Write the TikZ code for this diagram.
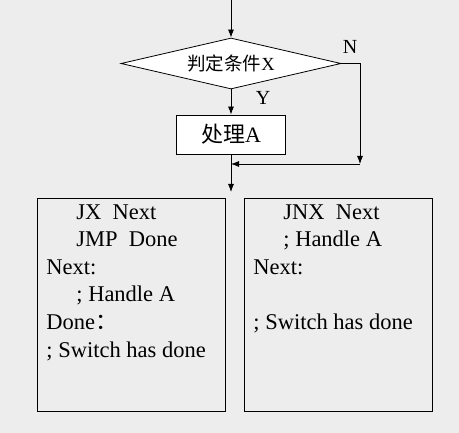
\documentclass[tikz,border=0pt]{standalone}
\usepackage{fontspec}
\setmainfont{Liberation Serif}
\newfontfamily\cjk{Noto Sans CJK SC}
\usetikzlibrary{arrows.meta,shapes.geometric,positioning}
\definecolor{bggray}{RGB}{237,237,237}

\tikzset{
  flow/.style={-{Latex[length=8pt,width=6pt]}, line width=0.8pt},
  decision/.style={diamond, draw, line width=0.8pt, fill=white, aspect=4.2,
    minimum width=220pt, minimum height=51pt, inner sep=0pt,
    font=\fontsize{18.5}{20}\selectfont},
  process/.style={rectangle, draw, line width=0.8pt, fill=white,
    minimum width=109pt, minimum height=39pt, font=\fontsize{22}{26}\selectfont},
  codebox/.style={rectangle, draw, line width=0.8pt, anchor=north west,
    inner xsep=9pt, inner ysep=6pt, font=\fontsize{22.5}{27.6}\selectfont},
  branch/.style={font=\fontsize{20}{22}\selectfont}
}

\begin{document}
\begin{tikzpicture}[x=1pt,y=-1pt]

\fill[bggray] (0,0) rectangle (459,433);
\useasboundingbox (0,0) rectangle (459,433);

% flow chart
\node[decision] (test) at (231,63.5) {{\cjk 判定条件}X};
\node[process] (proc) at (231,134.5) {{\cjk 处理}A};

\coordinate (start) at (231,0);
\coordinate (bend) at (360,164);
\coordinate (merge) at (231,164);
\coordinate (exit) at (231,192);

\draw[flow] (start) -- (test.north);
\draw[flow] (test.south) -- (proc.north);
\draw[flow] (test.east) -| (bend);
\draw[flow] (bend) -- (merge);
\draw[flow] (proc.south) -- (exit);

\node[branch] (yes) at (263,98) {Y};
\node[branch] (no) at (350,47) {N};

% the two programs
\node[codebox] (progA) at (37,198) {\parbox[t][201pt][t]{170pt}{%
  \hspace*{30pt}JX\ \ Next\\
  \hspace*{30pt}JMP\ \ Done\\
  Next:\\
  \hspace*{30pt}; Handle A\\
  Done{\cjk ：}\\
  ; Switch has done}};

\node[codebox] (progB) at (244,198) {\parbox[t][201pt][t]{170pt}{%
  \hspace*{30pt}JNX\ \ Next\\
  \hspace*{30pt}; Handle A\\
  Next:\\
  \mbox{}\\
  ; Switch has done}};

\end{tikzpicture}
\end{document}
